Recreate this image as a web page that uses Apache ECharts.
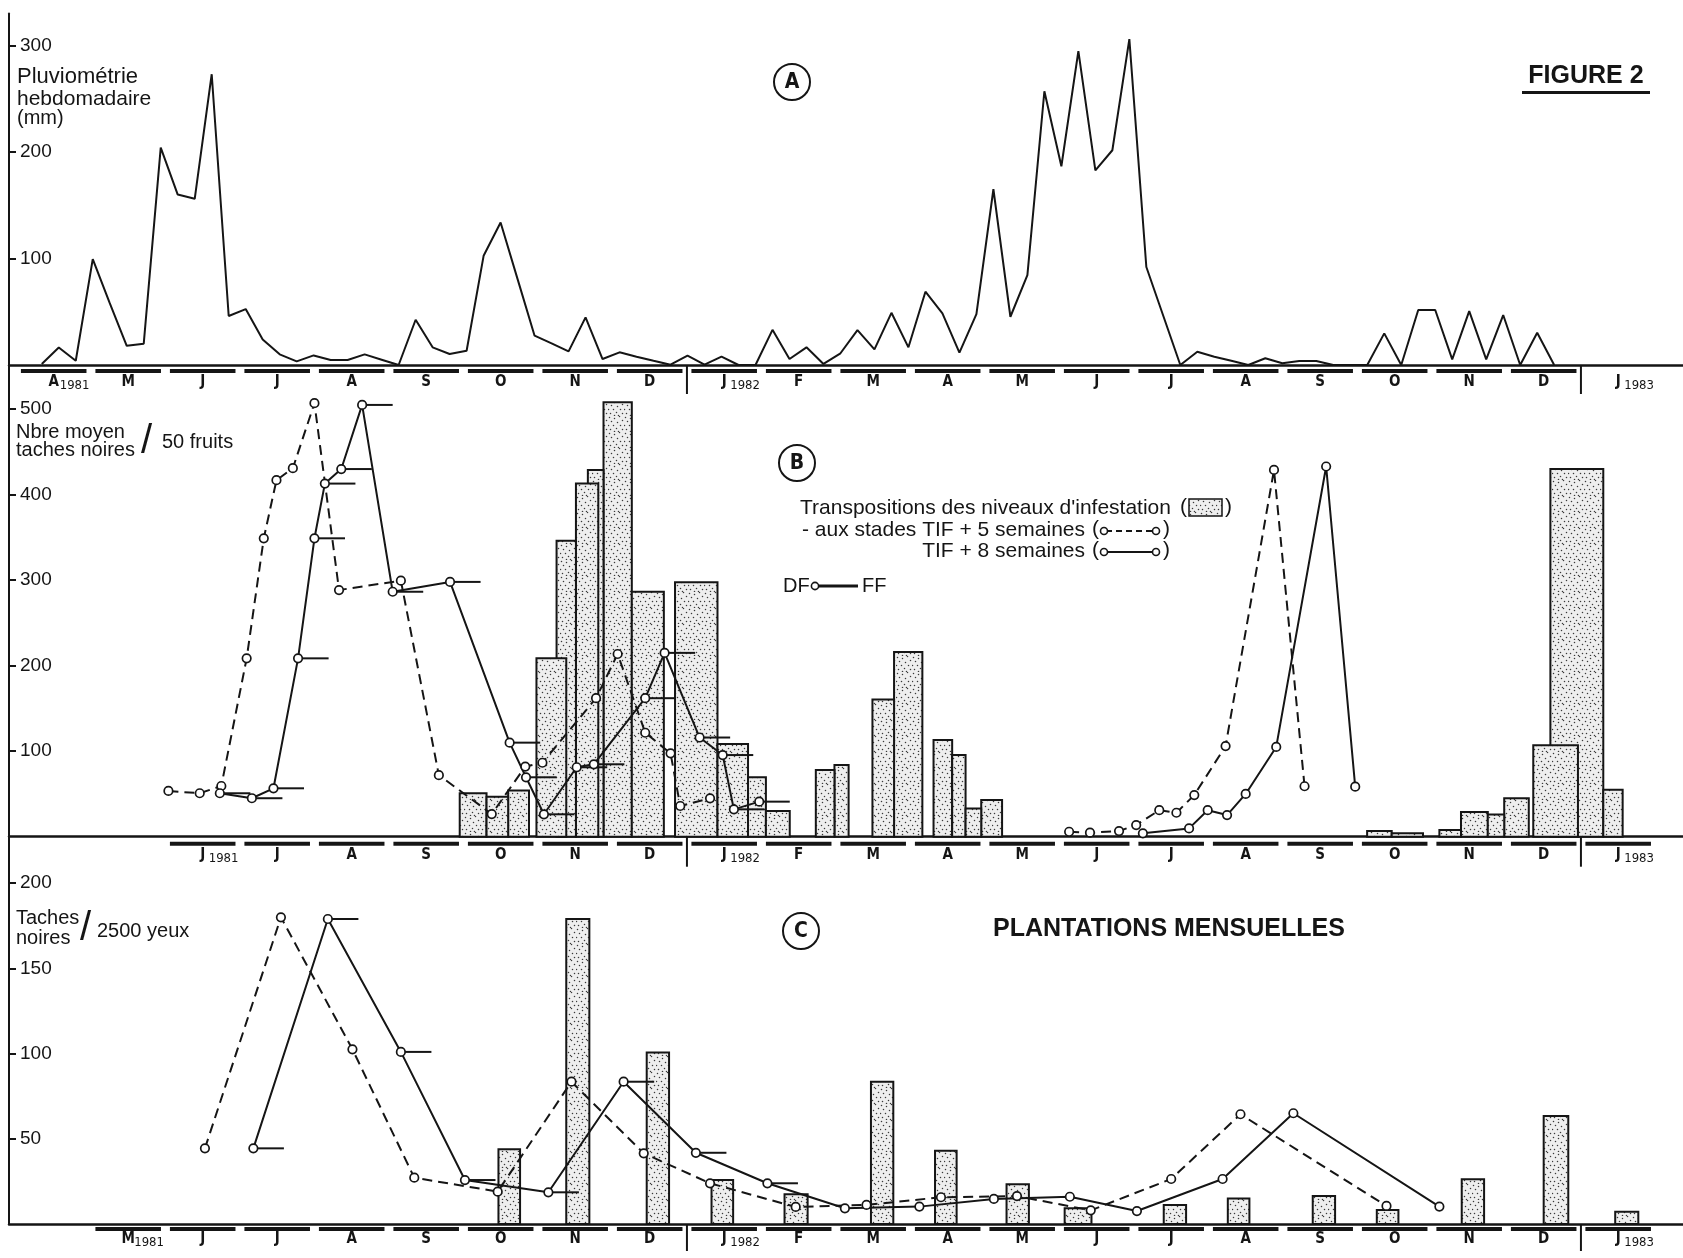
<!DOCTYPE html>
<html>
<head>
<meta charset="utf-8">
<script src="https://cdn.jsdelivr.net/npm/echarts@6/dist/echarts.min.js"></script>
<style>html,body{margin:0;padding:0;background:#fff}#chart{width:1683px;height:1258px}</style>
</head>
<body>
<div id="chart"></div>
<script>
// ---------------- DATA ----------------
// time unit: months from January 1981, month centre = integer (Jan 1981 = 0, Jan 1982 = 12, Jan 1983 = 24)
const MONTH_LETTERS = ['J','F','M','A','M','J','J','A','S','O','N','D'];

// Panel A : weekly rainfall (mm), first week mid-April 1981, one value per week
const rainStart = 2.84;
const rainStep = 0.2281;
const rainfall = [1,16.5,4,99.4,58,18,20,204,160,156,273,46,52.5,24,10,3.4,9,4.7,4.7,10,5,0,42.5,16.6,10.3,13.4,102.5,133.8,80.6,27.5,20.3,12.8,44.7,5.6,11.9,7.8,4,0.3,8.8,0.3,7.8,0,0,33,5.6,16.6,1,11,
  32.8,14.7,49,16.6,68.8,48.4,11.6,47.8,165,45.3,84.4,257,186.6,294.7,182.8,201.6,306,92,46,0,12.5,7.8,4,0,6.3,1.6,3.75,3.75,0,0,0,29.7,0,51.6,51.6,5.3,50.6,5.3,46.9,0,30.3,0];
const rainTicks = [100,200,300];
const monthsA = [3,4,5,6,7,8,9,10,11,12,13,14,15,16,17,18,19,20,21,22,23,24];

// Panel B : black spots / 50 fruits
const bDash81X = [4.54,4.96,5.25,5.59,5.82,5.99,6.21,6.50,6.83,7.66,8.17,8.88,9.33,9.56,10.28,10.57,10.94,11.28,11.41,11.81];
const bDash81Y = [53.5,50.8,59.3,208.6,349,417,431,507,288.5,299.4,72,26.5,82,86.5,162,213.7,121.6,97.5,35.9,44.9];
const bSolid81X = [5.23,5.66,5.95,6.28,6.50,6.64,6.86,7.14,7.55,8.32,9.12,9.34,9.58,10.02,10.25,10.94,11.20,11.67,11.98,12.13,12.47];
const bSolid81Y = [50.8,45,56.6,208.6,349,413,430,505,286.5,298,110,69.5,26.2,81.2,84.7,162,215,116,95.5,32,41];
const bDash82X = [16.63,16.91,17.30,17.53,17.84,18.07,18.31,18.73,19.38,19.79];
const bDash82Y = [5.8,4.7,6.6,13.6,31,28,48.7,106,429,59];
const bSolid82X = [17.62,18.24,18.49,18.75,19.00,19.41,20.08,20.47];
const bSolid82Y = [3.9,9.7,31,25.3,50,105,433,58.5];
const bBarStart = [8.45,8.81,9.10,9.48,9.75,10.01,10.17,10.38,10.76,11.34,11.91,12.32,12.56,13.23,13.48,13.99,14.28,14.81,15.06,15.24,15.45,20.63,20.96,21.60,21.89,22.25,22.47,22.86,23.09,23.80];
const bBarEnd   = [8.81,9.10,9.38,9.88,10.01,10.31,10.38,10.76,11.19,11.91,12.32,12.56,12.88,13.48,13.67,14.28,14.66,15.06,15.24,15.45,15.73,20.96,21.38,21.89,22.25,22.47,22.80,23.46,23.80,24.06];
const bBarValue = [50.7,46.8,54,208.6,346,413,429,508,286.5,297.5,108.4,69.5,30,78,84,160.6,216,113,95.5,33,43,6.6,4,7.8,29,26,45,107,430,55];
const bTicks = [100,200,300,400,500];
const monthsB = [5,6,7,8,9,10,11,12,13,14,15,16,17,18,19,20,21,22,23,24];

// Panel C : black spots / 2500 eyes (monthly plantings)
const cDashX = [5.03,6.05,7.01,7.84,8.96,9.95,10.92,11.81,12.96,13.91,14.91,15.93,16.92,18.00,18.93,20.89];
const cDashY = [44.4,180,102.5,27.2,19,83.5,41.5,23.9,10,11.2,15.7,16.4,8,26.4,64.4,10.6];
const cSolidX = [5.68,6.68,7.66,8.52,9.64,10.65,11.62,12.58,13.62,14.62,15.62,16.64,17.54,18.69,19.64,21.60];
const cSolidY = [44.4,179,101,25.8,18.6,83.5,41.8,23.9,9.2,10.2,14.7,16,7.6,26.4,65,10.2];
const cBarStart = [8.97,9.88,10.96,11.83,12.81,13.97,14.83,15.79,16.57,17.90,18.76,19.90,20.76,21.90,23.00,23.96];
const cBarEnd   = [9.26,10.19,11.26,12.12,13.12,14.27,15.12,16.09,16.93,18.20,19.05,20.20,21.05,22.20,23.33,24.27];
const cBarValue = [43.8,179,100.7,25.8,17.4,83.5,43,23.3,9.2,11.2,15,16.4,8.2,26.2,63.4,7.2];
const cTicks = [50,100,150,200];
const monthsC = [4,5,6,7,8,9,10,11,12,13,14,15,16,17,18,19,20,21,22,23,24];

// DF -> FF duration (months) drawn after flowering points
const ffSpan = 0.41;
const bTickCount = 21;   // solid 1981 points carrying a DF-FF segment
const cTickCount = 8;

// ---------------- STYLE / LAYOUT ----------------
const INK = '#151515';
const SANS = '"Liberation Sans", Arial, sans-serif';
const NARROW = '"Liberation Sans Narrow", "DejaVu Sans Condensed", sans-serif';
const X_MIN = 2.4, X_MAX = 24.87;
const grids = [
  {left: 9, width: 1674, top: 13.5, height: 351.5},
  {left: 9, width: 1674, top: 365, height: 471.7},
  {left: 9, width: 1674, top: 836.7, height: 387.3}
];
const yMax = [330, 551.7, 227.3];
const yTicks = [rainTicks, bTicks, cTicks];

function makeStipple() {
  const c = document.createElement('canvas');
  c.width = 16; c.height = 16;
  const g = c.getContext('2d');
  g.fillStyle = '#eeeeee'; g.fillRect(0, 0, 16, 16);
  g.fillStyle = '#3a3a3a';
  const dots = [[1,1],[6,2],[11,0],[14,4],[3,5],[9,6],[0,9],[5,9],[12,9],[2,13],[8,12],[14,13],[10,15],[6,15]];
  dots.forEach(d => { g.beginPath(); g.arc(d[0] + 0.5, d[1] + 0.5, 0.75, 0, Math.PI * 2); g.fill(); });
  return c;
}
const STIPPLE = makeStipple();

function pairs(xs, ys) { return xs.map((x, i) => [x, ys[i]]); }

function lineSeries(grid, xs, ys, dashed) {
  return {
    type: 'line', xAxisIndex: grid, yAxisIndex: grid, data: pairs(xs, ys), z: 6,
    symbol: 'circle', symbolSize: 8.5, showSymbol: true,
    itemStyle: {color: '#fff', borderColor: INK, borderWidth: 1.7},
    lineStyle: {color: INK, width: 2, type: dashed ? [10, 6] : 'solid'},
    silent: true, animation: false
  };
}

function barsSeries(grid, starts, ends, vals) {
  const data = starts.map((s, i) => [s, ends[i], vals[i]]).sort((a, b) => b[2] - a[2]);
  return {
    type: 'custom', xAxisIndex: grid, yAxisIndex: grid, z: 2, silent: true, animation: false,
    data: data, encode: {x: [0, 1], y: 2},
    renderItem: function (p, api) {
      const tl = api.coord([api.value(0), api.value(2)]);
      const br = api.coord([api.value(1), 0]);
      return {
        type: 'rect',
        shape: {x: tl[0], y: tl[1], width: br[0] - tl[0], height: br[1] - tl[1]},
        style: {fill: {image: STIPPLE, repeat: 'repeat'}, stroke: INK, lineWidth: 2}
      };
    }
  };
}

function ffSeries(grid, xs, ys, count) {
  return {
    type: 'custom', xAxisIndex: grid, yAxisIndex: grid, z: 5, silent: true, animation: false,
    data: pairs(xs.slice(0, count), ys.slice(0, count)),
    renderItem: function (p, api) {
      const a = api.coord([api.value(0), api.value(1)]);
      const b = api.coord([api.value(0) + ffSpan, api.value(1)]);
      return {type: 'line', shape: {x1: a[0] + 3, y1: a[1], x2: b[0], y2: b[1]}, style: {stroke: INK, lineWidth: 2}};
    }
  };
}

function monthSeries(grid, months, barOff, labelOff, noBarAfter) {
  return {
    type: 'custom', xAxisIndex: grid, yAxisIndex: grid, z: 3, silent: true, animation: false, clip: false,
    data: months.map(m => [m, 0]),
    renderItem: function (p, api) {
      const m = api.value(0);
      const c = api.coord([m, 0]);
      const a = api.coord([m - 0.44, 0]);
      const b = api.coord([m + 0.44, 0]);
      const base = c[1];
      const kids = [];
      if (noBarAfter == null || m <= noBarAfter) {
        kids.push({type: 'rect', shape: {x: a[0], y: base + barOff, width: b[0] - a[0], height: 4}, style: {fill: INK}});
      }
      kids.push({type: 'text', style: {text: MONTH_LETTERS[m % 12], x: c[0], y: base + labelOff, align: 'center', verticalAlign: 'middle', font: 'bold 15px ' + NARROW, fill: INK}});
      const first = p.dataIndex === 0;
      if (first || m % 12 === 0) {
        kids.push({type: 'text', style: {text: String(1981 + Math.floor(m / 12)), x: c[0] + 6, y: base + labelOff + 4, align: 'left', verticalAlign: 'middle', font: '13px ' + NARROW, fill: INK}});
      }
      if (m % 12 === 0) {
        const d = api.coord([m - 0.5, 0]);
        kids.push({type: 'line', shape: {x1: d[0], y1: base, x2: d[0], y2: base + labelOff + 12}, style: {stroke: INK, lineWidth: 2}});
      }
      return {type: 'group', children: kids};
    }
  };
}

const xAxes = grids.map((g, i) => ({
  gridIndex: i, type: 'value', min: X_MIN, max: X_MAX,
  axisLine: {show: true, onZero: false, lineStyle: {color: INK, width: 2.5}},
  axisTick: {show: false}, axisLabel: {show: false}, splitLine: {show: false}
}));
const yAxes = grids.map((g, i) => ({
  gridIndex: i, type: 'value', min: 0, max: yMax[i],
  axisLine: {show: true, lineStyle: {color: INK, width: 2}},
  axisTick: {show: true, inside: true, length: 7, customValues: yTicks[i], lineStyle: {color: INK, width: 2}},
  axisLabel: {show: true, inside: true, margin: 11, customValues: yTicks[i], fontSize: 19, fontFamily: SANS, color: INK},
  splitLine: {show: false}
}));

const series = [
  {type: 'line', xAxisIndex: 0, yAxisIndex: 0, data: rainfall.map((v, i) => [rainStart + i * rainStep, v]),
   symbol: 'none', lineStyle: {color: INK, width: 2}, z: 6, silent: true, animation: false},
  barsSeries(1, bBarStart, bBarEnd, bBarValue),
  barsSeries(2, cBarStart, cBarEnd, cBarValue),
  ffSeries(1, bSolid81X, bSolid81Y, bTickCount),
  ffSeries(2, cSolidX, cSolidY, cTickCount),
  lineSeries(1, bDash81X, bDash81Y, true),
  lineSeries(1, bSolid81X, bSolid81Y, false),
  lineSeries(1, bDash82X, bDash82Y, true),
  lineSeries(1, bSolid82X, bSolid82Y, false),
  lineSeries(2, cDashX, cDashY, true),
  lineSeries(2, cSolidX, cSolidY, false),
  monthSeries(0, monthsA, 4, 17, 23),
  monthSeries(1, monthsB, 5, 18, null),
  monthSeries(2, monthsC, 3, 15, null)
];

function txt(text, x, y, font, align) {
  return {type: 'text', silent: true, z: 20, style: {text: text, x: x, y: y, font: font, fill: INK, align: align || 'left', verticalAlign: 'middle'}};
}
function circ(cx, cy, r, lw) {
  return {type: 'circle', silent: true, z: 20, shape: {cx: cx, cy: cy, r: r}, style: {fill: '#fff', stroke: INK, lineWidth: lw || 2}};
}
function seg(x1, y1, x2, y2, lw, dash) {
  return {type: 'line', silent: true, z: 19, shape: {x1: x1, y1: y1, x2: x2, y2: y2}, style: {stroke: INK, lineWidth: lw || 2, lineDash: dash || null}};
}

const F20 = '20px ' + SANS;
const F21 = '21px ' + SANS;
const graphics = [
  // panel A
  txt('Pluviométrie', 17, 77, '22px ' + SANS), txt('hebdomadaire', 17, 99, F21), txt('(mm)', 17, 118, F20),
  circ(792, 82, 18), txt('A', 792, 83, 'bold 21px ' + NARROW, 'center'),
  txt('FIGURE 2', 1586, 76, 'bold 25px ' + SANS, 'center'),
  {type: 'rect', silent: true, z: 20, shape: {x: 1522, y: 91, width: 128, height: 3}, style: {fill: INK}},
  // panel B
  txt('Nbre moyen', 16, 432, F20), txt('taches noires', 16, 450, F20),
  txt('/', 141, 442, '40px ' + SANS), txt('50 fruits', 162, 442, F20),
  circ(797, 463, 18), txt('B', 797, 464, 'bold 21px ' + NARROW, 'center'),
  txt("Transpositions des niveaux d'infestation", 800, 508, F21),
  txt('(', 1180, 507, F21),
  {type: 'rect', silent: true, z: 20, shape: {x: 1189, y: 499, width: 33, height: 17}, style: {fill: {image: STIPPLE, repeat: 'repeat'}, stroke: INK, lineWidth: 1.5}},
  txt(')', 1225, 507, F21),
  txt('- aux stades TIF + 5 semaines', 1085, 530, F21, 'right'),
  txt('(', 1092, 529, F21), seg(1106, 531, 1154, 531, 2, [6, 4]), circ(1104, 531, 3.5, 1.6), circ(1156, 531, 3.5, 1.6), txt(')', 1163, 529, F21),
  txt('TIF + 8 semaines', 1085, 551, F21, 'right'),
  txt('(', 1092, 550, F21), seg(1106, 552, 1154, 552, 2.2), circ(1104, 552, 3.5, 1.6), circ(1156, 552, 3.5, 1.6), txt(')', 1163, 550, F21),
  txt('DF', 783, 586, F20), seg(818, 586, 858, 586, 2.8), circ(815, 586, 3.6, 1.6), txt('FF', 862, 586, F20),
  // panel C
  txt('Taches', 16, 918, F20), txt('noires', 16, 938, F20),
  txt('/', 80, 929, '40px ' + SANS), txt('2500 yeux', 97, 931, F20),
  circ(801, 931, 18), txt('C', 801, 932, 'bold 21px ' + NARROW, 'center'),
  txt('PLANTATIONS MENSUELLES', 993, 929, 'bold 25px ' + SANS)
];

const chart = echarts.init(document.getElementById('chart'), null, {renderer: 'canvas'});
chart.setOption({
  animation: false,
  backgroundColor: '#fff',
  grid: grids,
  xAxis: xAxes,
  yAxis: yAxes,
  series: series,
  graphic: graphics
});
</script>
</body>
</html>
